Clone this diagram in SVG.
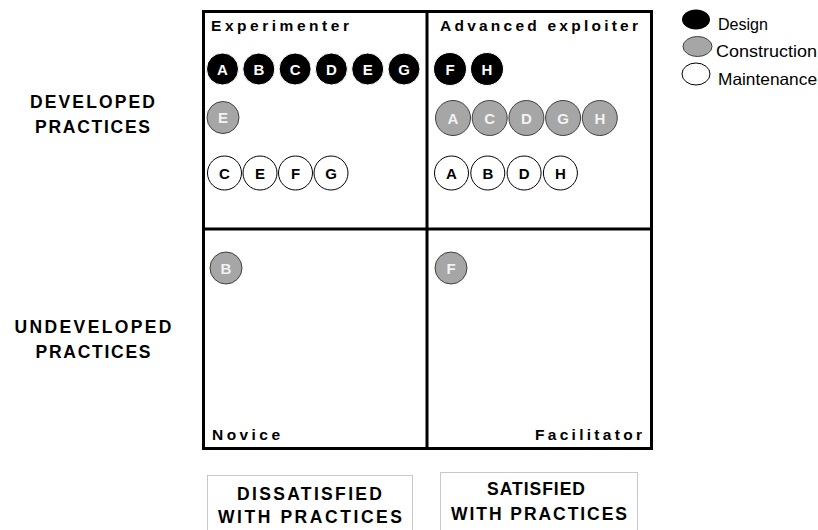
<svg xmlns="http://www.w3.org/2000/svg" width="818" height="530" viewBox="0 0 818 530">
<style>
.q{fill:#fff;stroke:#000;stroke-width:3}
.hd{font-family:"Liberation Sans",Arial,sans-serif;font-weight:bold;font-size:15.5px;fill:#000}
.ax{font-family:"Liberation Sans",Arial,sans-serif;font-weight:bold;font-size:17.5px;fill:#000;text-anchor:middle}
.lg{font-family:"Liberation Sans",Arial,sans-serif;font-size:16.5px;fill:#000}
.d{fill:#000;stroke:#fff;stroke-width:1}
.c{fill:#a6a6a6;stroke:#404040;stroke-width:1}
.m{fill:#fff;stroke:#000;stroke-width:1}
.t{font-family:"Liberation Sans",Arial,sans-serif;font-weight:bold;font-size:15px;text-anchor:middle}
.td{fill:#fff}.tc{fill:#f2f2f2}.tm{fill:#000}
.bx{fill:#fff;stroke:#c8c8c8;stroke-width:1}
</style>
<rect width="818" height="530" fill="#fff"/>
<g id="quadrants">
<rect class="q" x="203.5" y="11.5" width="448" height="437"/>
<line x1="427" y1="11.5" x2="427" y2="448.5" stroke="#000" stroke-width="3"/>
<line x1="203.5" y1="229" x2="651.5" y2="229" stroke="#000" stroke-width="3"/>
</g>
<g id="experimenter">
<text class="hd" x="211" y="31" textLength="138" lengthAdjust="spacing">Experimenter</text>
<circle class="d" cx="222.5" cy="69" r="16"/><text class="t td" x="222.5" y="74.5">A</text>
<circle class="d" cx="258.8" cy="69" r="16"/><text class="t td" x="258.8" y="74.5">B</text>
<circle class="d" cx="295.1" cy="69" r="16"/><text class="t td" x="295.1" y="74.5">C</text>
<circle class="d" cx="331.4" cy="69" r="16"/><text class="t td" x="331.4" y="74.5">D</text>
<circle class="d" cx="367.7" cy="69" r="16"/><text class="t td" x="367.7" y="74.5">E</text>
<circle class="d" cx="404" cy="69" r="16"/><text class="t td" x="404" y="74.5">G</text>
<circle class="c" cx="223" cy="117.5" r="16"/><text class="t tc" x="223" y="123">E</text>
<circle class="m" cx="224.5" cy="173" r="17"/><text class="t tm" x="224.5" y="178.5">C</text>
<circle class="m" cx="260" cy="173" r="17"/><text class="t tm" x="260" y="178.5">E</text>
<circle class="m" cx="295.5" cy="173" r="17"/><text class="t tm" x="295.5" y="178.5">F</text>
<circle class="m" cx="331" cy="173" r="17"/><text class="t tm" x="331" y="178.5">G</text>
</g>
<g id="advanced-exploiter">
<text class="hd" x="440" y="31" textLength="198" lengthAdjust="spacing">Advanced exploiter</text>
<circle class="d" cx="450" cy="69" r="16.5"/><text class="t td" x="450" y="74.5">F</text>
<circle class="d" cx="487" cy="69" r="16.5"/><text class="t td" x="487" y="74.5">H</text>
<circle class="c" cx="453" cy="118" r="17.5"/><text class="t tc" x="453" y="123.5">A</text>
<circle class="c" cx="489.7" cy="118" r="17.5"/><text class="t tc" x="489.7" y="123.5">C</text>
<circle class="c" cx="526.4" cy="118" r="17.5"/><text class="t tc" x="526.4" y="123.5">D</text>
<circle class="c" cx="563.1" cy="118" r="17.5"/><text class="t tc" x="563.1" y="123.5">G</text>
<circle class="c" cx="599.8" cy="118" r="17.5"/><text class="t tc" x="599.8" y="123.5">H</text>
<circle class="m" cx="451.5" cy="173" r="17"/><text class="t tm" x="451.5" y="178.5">A</text>
<circle class="m" cx="487.8" cy="173" r="17"/><text class="t tm" x="487.8" y="178.5">B</text>
<circle class="m" cx="524.1" cy="173" r="17"/><text class="t tm" x="524.1" y="178.5">D</text>
<circle class="m" cx="560.4" cy="173" r="17"/><text class="t tm" x="560.4" y="178.5">H</text>
</g>
<g id="novice">
<circle class="c" cx="226" cy="268" r="16"/><text class="t tc" x="226" y="273.5">B</text>
<text class="hd" x="212" y="440" textLength="68" lengthAdjust="spacing">Novice</text>
</g>
<g id="facilitator">
<circle class="c" cx="451" cy="268" r="16"/><text class="t tc" x="451" y="273.5">F</text>
<text class="hd" x="535" y="440" textLength="107" lengthAdjust="spacing">Facilitator</text>
</g>
<g id="axis-developed">
<text class="ax" x="92.5" y="108" textLength="125" lengthAdjust="spacing">DEVELOPED</text>
<text class="ax" x="92.5" y="133" textLength="115" lengthAdjust="spacing">PRACTICES</text>
</g>
<g id="axis-undeveloped">
<text class="ax" x="93" y="333" textLength="157" lengthAdjust="spacing">UNDEVELOPED</text>
<text class="ax" x="93" y="358" textLength="115" lengthAdjust="spacing">PRACTICES</text>
</g>
<g id="axis-dissatisfied">
<rect class="bx" x="207.5" y="475.5" width="205" height="60"/>
<text class="ax" x="309.5" y="500" textLength="145" lengthAdjust="spacing">DISSATISFIED</text>
<text class="ax" x="310" y="523" textLength="184" lengthAdjust="spacing">WITH PRACTICES</text>
</g>
<g id="axis-satisfied">
<rect class="bx" x="440.5" y="472.5" width="197" height="63"/>
<text class="ax" x="536" y="495" textLength="98" lengthAdjust="spacing">SATISFIED</text>
<text class="ax" x="539" y="520" textLength="176" lengthAdjust="spacing">WITH PRACTICES</text>
</g>
<g id="legend">
<ellipse cx="696" cy="19.5" rx="14" ry="10" fill="#000"/>
<text class="lg" x="718" y="30" textLength="50" lengthAdjust="spacingAndGlyphs">Design</text>
<ellipse cx="697.5" cy="46.5" rx="14.5" ry="10" fill="#a6a6a6" stroke="#404040" stroke-width="1"/>
<text class="lg" x="716" y="57" textLength="101" lengthAdjust="spacingAndGlyphs">Construction</text>
<ellipse cx="696" cy="74" rx="14" ry="11" fill="#fff" stroke="#000" stroke-width="1"/>
<text class="lg" x="718" y="85" textLength="99" lengthAdjust="spacingAndGlyphs">Maintenance</text>
</g>
</svg>
